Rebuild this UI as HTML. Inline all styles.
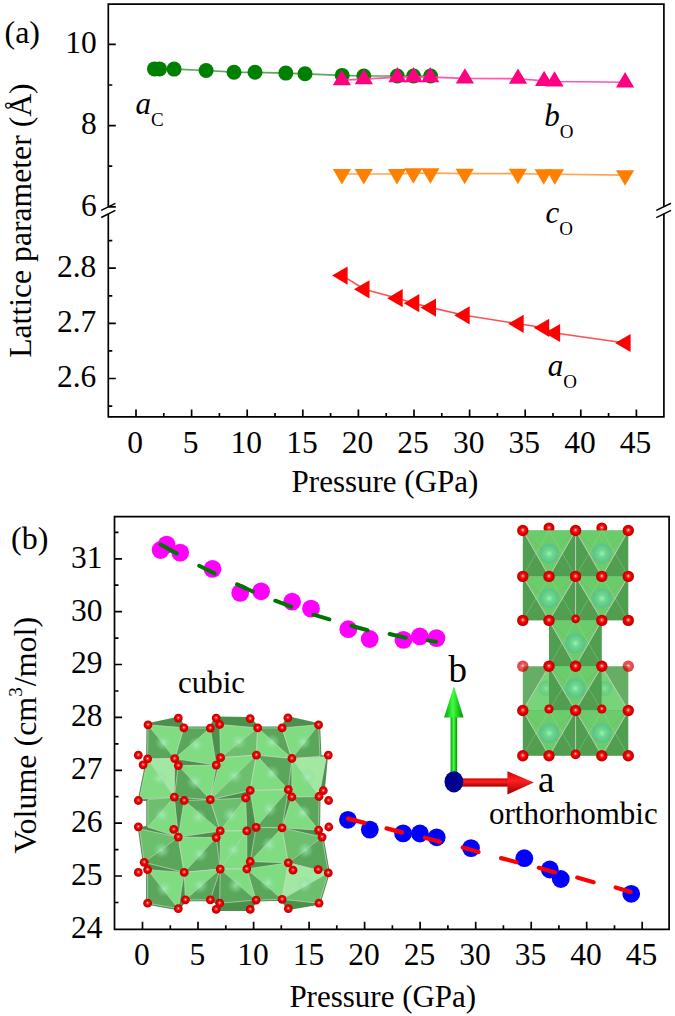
<!DOCTYPE html>
<html><head><meta charset="utf-8"><style>
html,body{margin:0;padding:0;background:#fff;}
svg{display:block;}
</style></head><body>
<svg width="675" height="1016" viewBox="0 0 675 1016">
<rect width="675" height="1016" fill="#fff"/>
<path d="M108.3,207 V4.1 H663.9 V206.6 M108.3,214 V416.9 H663.9 V213.8" fill="none" stroke="#000" stroke-width="1.7" stroke-linejoin="miter"/>
<path d="M101.2,210.4 L115.4,203.3 M101.2,217.5 L115.4,210.4 M656.3,210.4 L671,203.3 M656.3,217.6 L671,210.4" stroke="#000" stroke-width="1.5" fill="none"/>
<path d="M136.0,416.9 v-7.5 M191.6,416.9 v-7.5 M247.2,416.9 v-7.5 M302.8,416.9 v-7.5 M358.4,416.9 v-7.5 M414.0,416.9 v-7.5 M469.6,416.9 v-7.5 M525.2,416.9 v-7.5 M580.8,416.9 v-7.5 M636.4,416.9 v-7.5 M163.8,416.9 v-4 M219.4,416.9 v-4 M275.0,416.9 v-4 M330.6,416.9 v-4 M386.2,416.9 v-4 M441.8,416.9 v-4 M497.4,416.9 v-4 M553.0,416.9 v-4 M608.6,416.9 v-4 M108.3,44.4 h7.5 M108.3,85.0 h4 M108.3,125.6 h7.5 M108.3,166.2 h4 M108.3,206.8 h7.5 M108.3,240.6 h4 M108.3,268.2 h7.5 M108.3,295.8 h4 M108.3,323.3 h7.5 M108.3,350.9 h4 M108.3,378.5 h7.5 M108.3,406.1 h4" stroke="#000" stroke-width="1.7" fill="none"/>
<text x="135.1" y="452.8" text-anchor="middle" font-family="Liberation Serif" font-size="31.5">0</text>
<text x="190.7" y="452.8" text-anchor="middle" font-family="Liberation Serif" font-size="31.5">5</text>
<text x="246.3" y="452.8" text-anchor="middle" font-family="Liberation Serif" font-size="31.5">10</text>
<text x="301.9" y="452.8" text-anchor="middle" font-family="Liberation Serif" font-size="31.5">15</text>
<text x="357.5" y="452.8" text-anchor="middle" font-family="Liberation Serif" font-size="31.5">20</text>
<text x="413.1" y="452.8" text-anchor="middle" font-family="Liberation Serif" font-size="31.5">25</text>
<text x="468.7" y="452.8" text-anchor="middle" font-family="Liberation Serif" font-size="31.5">30</text>
<text x="524.3" y="452.8" text-anchor="middle" font-family="Liberation Serif" font-size="31.5">35</text>
<text x="579.9" y="452.8" text-anchor="middle" font-family="Liberation Serif" font-size="31.5">40</text>
<text x="635.5" y="452.8" text-anchor="middle" font-family="Liberation Serif" font-size="31.5">45</text>
<text x="96.8" y="53.2" text-anchor="end" font-family="Liberation Serif" font-size="31.5">10</text>
<text x="96.8" y="134.4" text-anchor="end" font-family="Liberation Serif" font-size="31.5">8</text>
<text x="96.8" y="215.6" text-anchor="end" font-family="Liberation Serif" font-size="31.5">6</text>
<text x="96.3" y="277.0" text-anchor="end" font-family="Liberation Serif" font-size="31.5">2.8</text>
<text x="96.3" y="332.1" text-anchor="end" font-family="Liberation Serif" font-size="31.5">2.7</text>
<text x="96.3" y="387.3" text-anchor="end" font-family="Liberation Serif" font-size="31.5">2.6</text>
<text x="385" y="492" text-anchor="middle" font-family="Liberation Serif" font-size="31">Pressure (GPa)</text>
<text transform="translate(30.7,220.6) rotate(-90)" text-anchor="middle" font-family="Liberation Serif" font-size="31.7">Lattice parameter (Å)</text>
<text x="4.5" y="42.6" font-family="Liberation Serif" font-size="32">(a)</text>
<text x="135.5" y="113.7" font-family="Liberation Serif" font-size="31"><tspan font-style="italic">a</tspan><tspan font-size="19" dy="12">C</tspan></text>
<text x="544.3" y="125.5" font-family="Liberation Serif" font-size="31"><tspan font-style="italic">b</tspan><tspan font-size="19" dy="12">O</tspan></text>
<text x="545.6" y="222.6" font-family="Liberation Serif" font-size="31"><tspan font-style="italic">c</tspan><tspan font-size="19" dy="12">O</tspan></text>
<text x="547.7" y="376.4" font-family="Liberation Serif" font-size="31"><tspan font-style="italic">a</tspan><tspan font-size="19" dy="12">O</tspan></text>
<polyline points="154.5,68.9 159.5,68.9 174.1,69.1 206.1,70.5 234,72.2 255,72.3 285.8,73.1 305,73.8 342.2,75.4 363.8,76 397.3,76 413.6,76 430.6,76" fill="none" stroke="#5aaa5a" stroke-width="1.7"/>
<circle cx="154.5" cy="68.9" r="7.5" fill="#008000"/>
<circle cx="159.5" cy="68.9" r="7.5" fill="#008000"/>
<circle cx="174.1" cy="69.1" r="7.5" fill="#008000"/>
<circle cx="206.1" cy="70.5" r="7.5" fill="#008000"/>
<circle cx="234" cy="72.2" r="7.5" fill="#008000"/>
<circle cx="255" cy="72.3" r="7.5" fill="#008000"/>
<circle cx="285.8" cy="73.1" r="7.5" fill="#008000"/>
<circle cx="305" cy="73.8" r="7.5" fill="#008000"/>
<circle cx="342.2" cy="75.4" r="7.5" fill="#008000"/>
<circle cx="363.8" cy="76" r="7.5" fill="#008000"/>
<circle cx="397.3" cy="76" r="7.5" fill="#008000"/>
<circle cx="413.6" cy="76" r="7.5" fill="#008000"/>
<circle cx="430.6" cy="76" r="7.5" fill="#008000"/>
<polyline points="341.9,80.1 363.9,79.1 397.4,77.1 413.6,77.1 430.3,77.1 464.9,78.4 518,78.7 544.1,80.9 554.5,81.5 625.1,82.3" fill="none" stroke="#ff55aa" stroke-width="1.6"/>
<path d="M341.9,69.9 L351.0,85.2 L332.8,85.2Z" fill="#ff0080"/>
<path d="M363.9,68.9 L373.0,84.2 L354.8,84.2Z" fill="#ff0080"/>
<path d="M397.4,66.9 L406.5,82.2 L388.3,82.2Z" fill="#ff0080"/>
<path d="M413.6,66.9 L422.7,82.2 L404.5,82.2Z" fill="#ff0080"/>
<path d="M430.3,66.9 L439.4,82.2 L421.2,82.2Z" fill="#ff0080"/>
<path d="M464.9,68.2 L474.0,83.5 L455.8,83.5Z" fill="#ff0080"/>
<path d="M518,68.5 L527.1,83.8 L508.9,83.8Z" fill="#ff0080"/>
<path d="M544.1,70.7 L553.2,86.0 L535.0,86.0Z" fill="#ff0080"/>
<path d="M554.5,71.3 L563.6,86.6 L545.4,86.6Z" fill="#ff0080"/>
<path d="M625.1,72.1 L634.2,87.4 L616.0,87.4Z" fill="#ff0080"/>
<polyline points="341.9,174 363.8,174 397,174 413.4,173.1 430.4,173.1 464.7,173.6 517.9,173.6 543.7,174.2 554.9,174.2 625.1,175.1" fill="none" stroke="#ffa550" stroke-width="1.6"/>
<path d="M341.9,184.6 L351.0,169.1 L332.8,169.1Z" fill="#ff8000"/>
<path d="M363.8,184.6 L372.9,169.1 L354.7,169.1Z" fill="#ff8000"/>
<path d="M397,184.6 L406.1,169.1 L387.9,169.1Z" fill="#ff8000"/>
<path d="M413.4,183.7 L422.5,168.2 L404.3,168.2Z" fill="#ff8000"/>
<path d="M430.4,183.7 L439.5,168.2 L421.3,168.2Z" fill="#ff8000"/>
<path d="M464.7,184.2 L473.8,168.7 L455.6,168.7Z" fill="#ff8000"/>
<path d="M517.9,184.2 L527.0,168.7 L508.8,168.7Z" fill="#ff8000"/>
<path d="M543.7,184.8 L552.8,169.3 L534.6,169.3Z" fill="#ff8000"/>
<path d="M554.9,184.8 L564.0,169.3 L545.8,169.3Z" fill="#ff8000"/>
<path d="M625.1,185.7 L634.2,170.2 L616.0,170.2Z" fill="#ff8000"/>
<polyline points="342.4,275.6 364.3,289.3 397.5,298.2 414.1,303.2 430.8,307.6 464.5,315.3 518.5,323.8 544,327.8 554.9,333 625.4,343" fill="none" stroke="#ff5050" stroke-width="1.6"/>
<path d="M332.1,275.6 L347.6,266.5 L347.6,284.7Z" fill="#ff0000"/>
<path d="M354.0,289.3 L369.5,280.2 L369.5,298.4Z" fill="#ff0000"/>
<path d="M387.2,298.2 L402.7,289.1 L402.7,307.3Z" fill="#ff0000"/>
<path d="M403.8,303.2 L419.3,294.1 L419.3,312.3Z" fill="#ff0000"/>
<path d="M420.5,307.6 L436.0,298.5 L436.0,316.7Z" fill="#ff0000"/>
<path d="M454.2,315.3 L469.7,306.2 L469.7,324.4Z" fill="#ff0000"/>
<path d="M508.2,323.8 L523.7,314.7 L523.7,332.9Z" fill="#ff0000"/>
<path d="M533.7,327.8 L549.2,318.7 L549.2,336.9Z" fill="#ff0000"/>
<path d="M544.6,333 L560.1,323.9 L560.1,342.1Z" fill="#ff0000"/>
<path d="M615.1,343 L630.6,333.9 L630.6,352.1Z" fill="#ff0000"/>
<path d="M114.5,516.6 H669.1 V929.3 H114.5 Z" fill="none" stroke="#000" stroke-width="1.7"/>
<path d="M142.5,929.3 v-7.5 M198.0,929.3 v-7.5 M253.6,929.3 v-7.5 M309.1,929.3 v-7.5 M364.6,929.3 v-7.5 M420.1,929.3 v-7.5 M475.7,929.3 v-7.5 M531.2,929.3 v-7.5 M586.7,929.3 v-7.5 M642.2,929.3 v-7.5 M170.3,929.3 v-4 M225.8,929.3 v-4 M281.3,929.3 v-4 M336.8,929.3 v-4 M392.4,929.3 v-4 M447.9,929.3 v-4 M503.4,929.3 v-4 M558.9,929.3 v-4 M614.5,929.3 v-4 M114.5,876.0 h7.5 M114.5,823.1 h7.5 M114.5,770.3 h7.5 M114.5,717.4 h7.5 M114.5,664.5 h7.5 M114.5,611.7 h7.5 M114.5,558.8 h7.5 M114.5,902.5 h4 M114.5,849.6 h4 M114.5,796.7 h4 M114.5,743.8 h4 M114.5,691.0 h4 M114.5,638.1 h4 M114.5,585.2 h4 M114.5,532.4 h4" stroke="#000" stroke-width="1.7" fill="none"/>
<text x="141.9" y="965.2" text-anchor="middle" font-family="Liberation Serif" font-size="31.5">0</text>
<text x="197.4" y="965.2" text-anchor="middle" font-family="Liberation Serif" font-size="31.5">5</text>
<text x="253.0" y="965.2" text-anchor="middle" font-family="Liberation Serif" font-size="31.5">10</text>
<text x="308.5" y="965.2" text-anchor="middle" font-family="Liberation Serif" font-size="31.5">15</text>
<text x="364.0" y="965.2" text-anchor="middle" font-family="Liberation Serif" font-size="31.5">20</text>
<text x="419.5" y="965.2" text-anchor="middle" font-family="Liberation Serif" font-size="31.5">25</text>
<text x="475.1" y="965.2" text-anchor="middle" font-family="Liberation Serif" font-size="31.5">30</text>
<text x="530.6" y="965.2" text-anchor="middle" font-family="Liberation Serif" font-size="31.5">35</text>
<text x="586.1" y="965.2" text-anchor="middle" font-family="Liberation Serif" font-size="31.5">40</text>
<text x="641.6" y="965.2" text-anchor="middle" font-family="Liberation Serif" font-size="31.5">45</text>
<text x="102.4" y="937.7" text-anchor="end" font-family="Liberation Serif" font-size="31.5">24</text>
<text x="102.4" y="884.8" text-anchor="end" font-family="Liberation Serif" font-size="31.5">25</text>
<text x="102.4" y="831.9" text-anchor="end" font-family="Liberation Serif" font-size="31.5">26</text>
<text x="102.4" y="779.1" text-anchor="end" font-family="Liberation Serif" font-size="31.5">27</text>
<text x="102.4" y="726.2" text-anchor="end" font-family="Liberation Serif" font-size="31.5">28</text>
<text x="102.4" y="673.3" text-anchor="end" font-family="Liberation Serif" font-size="31.5">29</text>
<text x="102.4" y="620.5" text-anchor="end" font-family="Liberation Serif" font-size="31.5">30</text>
<text x="102.4" y="567.6" text-anchor="end" font-family="Liberation Serif" font-size="31.5">31</text>
<text x="382.8" y="1006.5" text-anchor="middle" font-family="Liberation Serif" font-size="31">Pressure (GPa)</text>
<text transform="translate(36.3,735.2) rotate(-90)" text-anchor="middle" font-family="Liberation Serif" font-size="32">Volume (cm<tspan font-size="19" dy="-14">3</tspan><tspan dy="14" dx="1">/mol)</tspan></text>
<text x="11" y="548.6" font-family="Liberation Serif" font-size="32">(b)</text>
<circle cx="160.6" cy="550" r="8.9" fill="#ff00ff"/>
<circle cx="166.6" cy="544.6" r="8.9" fill="#ff00ff"/>
<circle cx="180.2" cy="552.6" r="8.9" fill="#ff00ff"/>
<circle cx="212.5" cy="568.9" r="8.9" fill="#ff00ff"/>
<circle cx="240.2" cy="592.9" r="8.9" fill="#ff00ff"/>
<circle cx="261.1" cy="591.3" r="8.9" fill="#ff00ff"/>
<circle cx="292.1" cy="601.7" r="8.9" fill="#ff00ff"/>
<circle cx="311" cy="608.6" r="8.9" fill="#ff00ff"/>
<circle cx="348.3" cy="629.2" r="8.9" fill="#ff00ff"/>
<circle cx="369.7" cy="639" r="8.9" fill="#ff00ff"/>
<circle cx="403.4" cy="639.9" r="8.9" fill="#ff00ff"/>
<circle cx="419.8" cy="636.5" r="8.9" fill="#ff00ff"/>
<circle cx="436.5" cy="638.1" r="8.9" fill="#ff00ff"/>
<path d="M160.6,544.5 L176.8,553.4 M199.2,565.8 L214.6,573.5 M237.1,584.4 L252.8,591.5 M275.3,600.7 L291.1,606.7 M313.5,614.7 L329.4,619.4 M351.4,625.7 L367.5,630.2 M389.6,634.0 L405.7,637.8 M427.9,640.4 L435.9,641.8" stroke="#007400" stroke-width="4.0" stroke-linecap="round" fill="none"/>
<circle cx="347.9" cy="819.8" r="8.9" fill="#0000ff"/>
<circle cx="369.8" cy="829.6" r="8.9" fill="#0000ff"/>
<circle cx="403.1" cy="833.4" r="8.9" fill="#0000ff"/>
<circle cx="419.9" cy="833.5" r="8.9" fill="#0000ff"/>
<circle cx="436.7" cy="837.3" r="8.9" fill="#0000ff"/>
<circle cx="471" cy="848.1" r="8.9" fill="#0000ff"/>
<circle cx="524.3" cy="858.2" r="8.9" fill="#0000ff"/>
<circle cx="549.8" cy="869.5" r="8.9" fill="#0000ff"/>
<circle cx="560.8" cy="879" r="8.9" fill="#0000ff"/>
<circle cx="631.2" cy="893.8" r="8.9" fill="#0000ff"/>
<path d="M348.0,818.6 L364.3,822.9 M386.6,828.4 L401.9,832.4 M424.9,837.7 L439.9,841.8 M462.7,847.5 L478.5,851.9 M501.1,858.1 L516.7,862.2 M538.8,867.8 L555.0,872.4 M577.2,877.6 L593.6,882.2 M615.7,887.4 L630.6,891.9" stroke="#ff0000" stroke-width="4.2" stroke-linecap="round" fill="none"/>
<text x="178" y="692.7" font-family="Liberation Serif" font-size="31">cubic</text>
<text x="489" y="823.8" font-family="Liberation Serif" font-size="31">orthorhombic</text>
<text x="448.5" y="682.3" font-family="Liberation Serif" font-size="37">b</text>
<text x="538" y="792" font-family="Liberation Serif" font-size="37">a</text>
<defs>
<radialGradient id="rs" cx="0.5" cy="0.5" r="0.55" fx="0.5" fy="0.45">
<stop offset="0" stop-color="#ffffff"/><stop offset="0.18" stop-color="#ff5050"/><stop offset="0.45" stop-color="#f00000"/><stop offset="1" stop-color="#b00000"/></radialGradient>
<radialGradient id="cs" cx="0.5" cy="0.5" r="0.5">
<stop offset="0" stop-color="#98f4a8"/><stop offset="0.35" stop-color="#6cd890"/><stop offset="0.85" stop-color="#5cc488"/><stop offset="1" stop-color="#5cc488" stop-opacity="0.3"/></radialGradient>
<radialGradient id="cg" cx="0.5" cy="0.5" r="0.5">
<stop offset="0" stop-color="#b0f0bc" stop-opacity="0.75"/><stop offset="0.6" stop-color="#8ee0a4" stop-opacity="0.35"/><stop offset="1" stop-color="#80d898" stop-opacity="0"/></radialGradient>
<linearGradient id="ga" x1="0" y1="0" x2="1" y2="0">
<stop offset="0" stop-color="#00a000"/><stop offset="0.45" stop-color="#40ff40"/><stop offset="1" stop-color="#009000"/></linearGradient>
<linearGradient id="ra" x1="0" y1="0" x2="0" y2="1">
<stop offset="0" stop-color="#d00000"/><stop offset="0.4" stop-color="#ff2020"/><stop offset="1" stop-color="#a00000"/></linearGradient>
</defs>
<path d="M148.0,724.8 L178.3,718.1 L183.9,727.8 L210.3,728.1 L216.2,718.1 L250.2,718.6 L257.7,727.9 L282.1,727.9 L287.9,717.8 L318.6,724.8 L320.0,756.5 L326.4,756.7 L323.3,790.7 L319.0,796.5 L318.6,830.1 L322.1,837.1 L328.3,872.9 L319.0,903.2 L288.3,908.6 L282.1,899.3 L256.1,900.1 L250.2,909.4 L216.2,909.4 L219.7,903.2 L210.3,899.8 L185.4,899.8 L178.3,908.7 L147.6,903.2 L147.6,869.7 L144.2,862.3 L139.5,829.0 L147.8,827.0 L147.8,799.7 L139.5,799.0 L147.6,758.9 Z" fill="#4b904b" stroke="#4b904b" stroke-width="3" stroke-linejoin="round"/>
<path d="M148.0,724.8 L183.9,727.8 L174.7,758.6 Z" fill="#80dc80"/>
<path d="M148.0,724.8 L174.7,758.6 L147.6,758.9 Z" fill="#5aa65a"/>
<path d="M148.0,724.8 L183.9,727.8 L174.7,758.6 L147.6,758.9 Z M148.0,724.8 L174.7,758.6" fill="none" stroke="#d0dcd0" stroke-width="0.8" opacity="0.8"/>
<circle cx="163.5" cy="742.5" r="8.5" fill="url(#cg)"/>
<path d="M183.9,727.8 L210.3,728.1 L174.7,758.6 Z" fill="#5aa65a"/>
<path d="M210.3,728.1 L216.2,765.1 L174.7,758.6 Z" fill="#80dc80"/>
<path d="M183.9,727.8 L210.3,728.1 L216.2,765.1 L174.7,758.6 Z M210.3,728.1 L174.7,758.6" fill="none" stroke="#d0dcd0" stroke-width="0.8" opacity="0.8"/>
<circle cx="196.3" cy="744.9" r="8.5" fill="url(#cg)"/>
<path d="M219.7,724.5 L257.7,727.9 L220.6,757.7 Z" fill="#80dc80"/>
<path d="M257.7,727.9 L256.4,755.1 L220.6,757.7 Z" fill="#6cbf6c"/>
<path d="M219.7,724.5 L257.7,727.9 L256.4,755.1 L220.6,757.7 Z M257.7,727.9 L220.6,757.7" fill="none" stroke="#d0dcd0" stroke-width="0.8" opacity="0.8"/>
<circle cx="238.6" cy="741.3" r="8.5" fill="url(#cg)"/>
<path d="M257.7,727.9 L282.1,727.9 L291.9,758.5 Z" fill="#5aa65a"/>
<path d="M257.7,727.9 L291.9,758.5 L256.4,755.1 Z" fill="#80dc80"/>
<path d="M257.7,727.9 L282.1,727.9 L291.9,758.5 L256.4,755.1 Z M257.7,727.9 L291.9,758.5" fill="none" stroke="#d0dcd0" stroke-width="0.8" opacity="0.8"/>
<circle cx="272.0" cy="742.4" r="8.5" fill="url(#cg)"/>
<path d="M282.1,727.9 L318.6,724.8 L291.9,758.5 Z" fill="#80dc80"/>
<path d="M318.6,724.8 L320.0,756.5 L291.9,758.5 Z" fill="#5aa65a"/>
<path d="M282.1,727.9 L318.6,724.8 L320.0,756.5 L291.9,758.5 Z M318.6,724.8 L291.9,758.5" fill="none" stroke="#d0dcd0" stroke-width="0.8" opacity="0.8"/>
<circle cx="303.1" cy="741.9" r="8.5" fill="url(#cg)"/>
<path d="M147.6,758.9 L174.7,758.6 L174.3,797.1 Z" fill="#a2e8a2"/>
<path d="M147.6,758.9 L174.3,797.1 L139.5,799.0 Z" fill="#80dc80"/>
<path d="M147.6,758.9 L174.7,758.6 L174.3,797.1 L139.5,799.0 Z M147.6,758.9 L174.3,797.1" fill="none" stroke="#d0dcd0" stroke-width="0.8" opacity="0.8"/>
<circle cx="159.0" cy="778.4" r="8.5" fill="url(#cg)"/>
<path d="M178.3,765.6 L216.2,765.1 L210.3,799.7 Z" fill="#80dc80"/>
<path d="M178.3,765.6 L210.3,799.7 L174.3,797.1 Z" fill="#5aa65a"/>
<path d="M178.3,765.6 L216.2,765.1 L210.3,799.7 L174.3,797.1 Z M178.3,765.6 L210.3,799.7" fill="none" stroke="#d0dcd0" stroke-width="0.8" opacity="0.8"/>
<circle cx="194.8" cy="781.9" r="8.5" fill="url(#cg)"/>
<path d="M220.6,757.7 L256.4,755.1 L210.3,799.7 Z" fill="#80dc80"/>
<path d="M256.4,755.1 L250.2,790.5 L210.3,799.7 Z" fill="#6cbf6c"/>
<path d="M220.6,757.7 L256.4,755.1 L250.2,790.5 L210.3,799.7 Z M256.4,755.1 L210.3,799.7" fill="none" stroke="#d0dcd0" stroke-width="0.8" opacity="0.8"/>
<circle cx="234.4" cy="775.8" r="8.5" fill="url(#cg)"/>
<path d="M256.4,755.1 L291.9,758.5 L288.3,789.7 Z" fill="#5aa65a"/>
<path d="M256.4,755.1 L288.3,789.7 L250.2,790.5 Z" fill="#80dc80"/>
<path d="M256.4,755.1 L291.9,758.5 L288.3,789.7 L250.2,790.5 Z M256.4,755.1 L288.3,789.7" fill="none" stroke="#d0dcd0" stroke-width="0.8" opacity="0.8"/>
<circle cx="271.7" cy="773.5" r="8.5" fill="url(#cg)"/>
<path d="M291.9,758.5 L326.4,756.7 L319.0,796.5 Z" fill="#a2e8a2"/>
<path d="M291.9,758.5 L319.0,796.5 L291.9,797.0 Z" fill="#80dc80"/>
<path d="M291.9,758.5 L326.4,756.7 L319.0,796.5 L291.9,797.0 Z M291.9,758.5 L319.0,796.5" fill="none" stroke="#d0dcd0" stroke-width="0.8" opacity="0.8"/>
<circle cx="307.3" cy="777.2" r="8.5" fill="url(#cg)"/>
<path d="M147.8,799.7 L174.3,797.1 L147.8,827.0 Z" fill="#6cbf6c"/>
<path d="M174.3,797.1 L178.3,837.1 L147.8,827.0 Z" fill="#80dc80"/>
<path d="M147.8,799.7 L174.3,797.1 L178.3,837.1 L147.8,827.0 Z M174.3,797.1 L147.8,827.0" fill="none" stroke="#d0dcd0" stroke-width="0.8" opacity="0.8"/>
<circle cx="162.1" cy="815.2" r="8.5" fill="url(#cg)"/>
<path d="M184.2,800.5 L210.3,799.7 L220.2,830.9 Z" fill="#5aa65a"/>
<path d="M184.2,800.5 L220.2,830.9 L178.3,837.1 Z" fill="#80dc80"/>
<path d="M184.2,800.5 L210.3,799.7 L220.2,830.9 L178.3,837.1 Z M184.2,800.5 L220.2,830.9" fill="none" stroke="#d0dcd0" stroke-width="0.8" opacity="0.8"/>
<circle cx="198.2" cy="817.0" r="8.5" fill="url(#cg)"/>
<path d="M210.3,799.7 L245.6,798.0 L220.2,830.9 Z" fill="#6cbf6c"/>
<path d="M245.6,798.0 L246.8,830.9 L220.2,830.9 Z" fill="#80dc80"/>
<path d="M210.3,799.7 L245.6,798.0 L246.8,830.9 L220.2,830.9 Z M245.6,798.0 L220.2,830.9" fill="none" stroke="#d0dcd0" stroke-width="0.8" opacity="0.8"/>
<circle cx="230.7" cy="814.9" r="8.5" fill="url(#cg)"/>
<path d="M250.2,790.5 L288.3,789.7 L256.1,827.3 Z" fill="#80dc80"/>
<path d="M288.3,789.7 L282.1,827.8 L256.1,827.3 Z" fill="#5aa65a"/>
<path d="M250.2,790.5 L288.3,789.7 L282.1,827.8 L256.1,827.3 Z M288.3,789.7 L256.1,827.3" fill="none" stroke="#d0dcd0" stroke-width="0.8" opacity="0.8"/>
<circle cx="269.2" cy="808.8" r="8.5" fill="url(#cg)"/>
<path d="M291.9,797.0 L319.0,796.5 L318.6,830.1 Z" fill="#5aa65a"/>
<path d="M291.9,797.0 L318.6,830.1 L282.1,827.8 Z" fill="#80dc80"/>
<path d="M291.9,797.0 L319.0,796.5 L318.6,830.1 L282.1,827.8 Z M291.9,797.0 L318.6,830.1" fill="none" stroke="#d0dcd0" stroke-width="0.8" opacity="0.8"/>
<circle cx="302.9" cy="812.8" r="8.5" fill="url(#cg)"/>
<path d="M139.5,829.0 L178.3,837.1 L144.2,862.3 Z" fill="#6cbf6c"/>
<path d="M178.3,837.1 L184.2,872.4 L144.2,862.3 Z" fill="#5aa65a"/>
<path d="M139.5,829.0 L178.3,837.1 L184.2,872.4 L144.2,862.3 Z M178.3,837.1 L144.2,862.3" fill="none" stroke="#d0dcd0" stroke-width="0.8" opacity="0.8"/>
<circle cx="161.6" cy="850.2" r="8.5" fill="url(#cg)"/>
<path d="M178.3,837.1 L216.2,837.6 L184.2,872.4 Z" fill="#80dc80"/>
<path d="M216.2,837.6 L220.2,869.1 L184.2,872.4 Z" fill="#5aa65a"/>
<path d="M178.3,837.1 L216.2,837.6 L220.2,869.1 L184.2,872.4 Z M216.2,837.6 L184.2,872.4" fill="none" stroke="#d0dcd0" stroke-width="0.8" opacity="0.8"/>
<circle cx="199.7" cy="854.1" r="8.5" fill="url(#cg)"/>
<path d="M220.2,830.9 L246.8,830.9 L220.2,869.1 Z" fill="#80dc80"/>
<path d="M246.8,830.9 L246.8,869.0 L220.2,869.1 Z" fill="#80dc80"/>
<path d="M220.2,830.9 L246.8,830.9 L246.8,869.0 L220.2,869.1 Z M246.8,830.9 L220.2,869.1" fill="none" stroke="#d0dcd0" stroke-width="0.8" opacity="0.8"/>
<circle cx="233.5" cy="850.0" r="8.5" fill="url(#cg)"/>
<path d="M256.1,827.3 L282.1,827.8 L250.2,861.5 Z" fill="#5aa65a"/>
<path d="M282.1,827.8 L288.3,862.8 L250.2,861.5 Z" fill="#80dc80"/>
<path d="M256.1,827.3 L282.1,827.8 L288.3,862.8 L250.2,861.5 Z M282.1,827.8 L250.2,861.5" fill="none" stroke="#d0dcd0" stroke-width="0.8" opacity="0.8"/>
<circle cx="269.2" cy="844.8" r="8.5" fill="url(#cg)"/>
<path d="M282.1,827.8 L322.1,837.1 L288.3,862.8 Z" fill="#6cbf6c"/>
<path d="M322.1,837.1 L328.3,872.9 L288.3,862.8 Z" fill="#5aa65a"/>
<path d="M282.1,827.8 L322.1,837.1 L328.3,872.9 L288.3,862.8 Z M322.1,837.1 L288.3,862.8" fill="none" stroke="#d0dcd0" stroke-width="0.8" opacity="0.8"/>
<circle cx="305.2" cy="850.2" r="8.5" fill="url(#cg)"/>
<path d="M147.6,869.7 L184.2,872.4 L178.3,908.7 Z" fill="#80dc80"/>
<path d="M147.6,869.7 L178.3,908.7 L147.6,903.2 Z" fill="#5aa65a"/>
<path d="M147.6,869.7 L184.2,872.4 L178.3,908.7 L147.6,903.2 Z M147.6,869.7 L178.3,908.7" fill="none" stroke="#d0dcd0" stroke-width="0.8" opacity="0.8"/>
<circle cx="164.4" cy="888.5" r="8.5" fill="url(#cg)"/>
<path d="M184.2,872.4 L220.2,869.1 L185.4,899.8 Z" fill="#80dc80"/>
<path d="M220.2,869.1 L210.3,899.8 L185.4,899.8 Z" fill="#5aa65a"/>
<path d="M184.2,872.4 L220.2,869.1 L210.3,899.8 L185.4,899.8 Z M220.2,869.1 L185.4,899.8" fill="none" stroke="#d0dcd0" stroke-width="0.8" opacity="0.8"/>
<circle cx="200.0" cy="885.3" r="8.5" fill="url(#cg)"/>
<path d="M220.2,869.1 L246.8,869.0 L256.1,900.1 Z" fill="#80dc80"/>
<path d="M220.2,869.1 L256.1,900.1 L219.7,903.2 Z" fill="#5aa65a"/>
<path d="M220.2,869.1 L246.8,869.0 L256.1,900.1 L219.7,903.2 Z M220.2,869.1 L256.1,900.1" fill="none" stroke="#d0dcd0" stroke-width="0.8" opacity="0.8"/>
<circle cx="235.7" cy="885.3" r="8.5" fill="url(#cg)"/>
<path d="M246.8,869.0 L288.3,862.8 L282.1,899.3 Z" fill="#80dc80"/>
<path d="M246.8,869.0 L282.1,899.3 L256.1,900.1 Z" fill="#5aa65a"/>
<path d="M246.8,869.0 L288.3,862.8 L282.1,899.3 L256.1,900.1 Z M246.8,869.0 L282.1,899.3" fill="none" stroke="#d0dcd0" stroke-width="0.8" opacity="0.8"/>
<circle cx="268.3" cy="882.8" r="8.5" fill="url(#cg)"/>
<path d="M288.3,862.8 L328.3,872.9 L282.1,899.3 Z" fill="#a2e8a2"/>
<path d="M328.3,872.9 L319.0,903.2 L282.1,899.3 Z" fill="#6cbf6c"/>
<path d="M288.3,862.8 L328.3,872.9 L319.0,903.2 L282.1,899.3 Z M328.3,872.9 L282.1,899.3" fill="none" stroke="#d0dcd0" stroke-width="0.8" opacity="0.8"/>
<circle cx="304.4" cy="884.5" r="8.5" fill="url(#cg)"/>
<circle cx="148.0" cy="724.8" r="4.4" fill="url(#rs)"/>
<circle cx="178.3" cy="718.1" r="4.4" fill="url(#rs)"/>
<circle cx="183.9" cy="727.8" r="4.4" fill="url(#rs)"/>
<circle cx="210.3" cy="728.1" r="4.4" fill="url(#rs)"/>
<circle cx="216.2" cy="718.1" r="4.4" fill="url(#rs)"/>
<circle cx="219.7" cy="724.5" r="4.4" fill="url(#rs)"/>
<circle cx="250.2" cy="718.6" r="4.4" fill="url(#rs)"/>
<circle cx="257.7" cy="727.9" r="4.4" fill="url(#rs)"/>
<circle cx="282.1" cy="727.9" r="4.4" fill="url(#rs)"/>
<circle cx="287.9" cy="717.8" r="4.4" fill="url(#rs)"/>
<circle cx="318.6" cy="724.8" r="4.4" fill="url(#rs)"/>
<circle cx="138.3" cy="755.2" r="4.4" fill="url(#rs)"/>
<circle cx="147.6" cy="758.9" r="4.4" fill="url(#rs)"/>
<circle cx="143.1" cy="764.8" r="4.4" fill="url(#rs)"/>
<circle cx="174.7" cy="758.6" r="4.4" fill="url(#rs)"/>
<circle cx="178.3" cy="765.6" r="4.4" fill="url(#rs)"/>
<circle cx="216.2" cy="765.1" r="4.4" fill="url(#rs)"/>
<circle cx="220.6" cy="757.7" r="4.4" fill="url(#rs)"/>
<circle cx="256.4" cy="755.1" r="4.4" fill="url(#rs)"/>
<circle cx="291.9" cy="758.5" r="4.4" fill="url(#rs)"/>
<circle cx="328.3" cy="755.1" r="4.4" fill="url(#rs)"/>
<circle cx="138.3" cy="800.5" r="4.4" fill="url(#rs)"/>
<circle cx="174.3" cy="797.1" r="4.4" fill="url(#rs)"/>
<circle cx="184.2" cy="800.5" r="4.4" fill="url(#rs)"/>
<circle cx="210.3" cy="799.7" r="4.4" fill="url(#rs)"/>
<circle cx="250.2" cy="790.5" r="4.4" fill="url(#rs)"/>
<circle cx="245.6" cy="798.0" r="4.4" fill="url(#rs)"/>
<circle cx="288.3" cy="789.7" r="4.4" fill="url(#rs)"/>
<circle cx="291.9" cy="797.0" r="4.4" fill="url(#rs)"/>
<circle cx="323.3" cy="790.7" r="4.4" fill="url(#rs)"/>
<circle cx="319.0" cy="796.5" r="4.4" fill="url(#rs)"/>
<circle cx="328.6" cy="800.5" r="4.4" fill="url(#rs)"/>
<circle cx="138.3" cy="826.8" r="4.4" fill="url(#rs)"/>
<circle cx="173.8" cy="829.4" r="4.4" fill="url(#rs)"/>
<circle cx="178.3" cy="837.1" r="4.4" fill="url(#rs)"/>
<circle cx="220.2" cy="830.9" r="4.4" fill="url(#rs)"/>
<circle cx="216.2" cy="837.6" r="4.4" fill="url(#rs)"/>
<circle cx="256.1" cy="827.3" r="4.4" fill="url(#rs)"/>
<circle cx="246.8" cy="830.9" r="4.4" fill="url(#rs)"/>
<circle cx="282.1" cy="827.8" r="4.4" fill="url(#rs)"/>
<circle cx="318.6" cy="830.1" r="4.4" fill="url(#rs)"/>
<circle cx="322.1" cy="837.1" r="4.4" fill="url(#rs)"/>
<circle cx="328.8" cy="827.0" r="4.4" fill="url(#rs)"/>
<circle cx="144.2" cy="862.3" r="4.4" fill="url(#rs)"/>
<circle cx="147.6" cy="869.7" r="4.4" fill="url(#rs)"/>
<circle cx="138.3" cy="872.4" r="4.4" fill="url(#rs)"/>
<circle cx="184.2" cy="872.4" r="4.4" fill="url(#rs)"/>
<circle cx="220.2" cy="869.1" r="4.4" fill="url(#rs)"/>
<circle cx="250.2" cy="861.5" r="4.4" fill="url(#rs)"/>
<circle cx="246.8" cy="869.0" r="4.4" fill="url(#rs)"/>
<circle cx="288.3" cy="862.8" r="4.4" fill="url(#rs)"/>
<circle cx="293.0" cy="870.2" r="4.4" fill="url(#rs)"/>
<circle cx="328.3" cy="872.9" r="4.4" fill="url(#rs)"/>
<circle cx="318.2" cy="869.6" r="4.4" fill="url(#rs)"/>
<circle cx="147.6" cy="903.2" r="4.4" fill="url(#rs)"/>
<circle cx="185.4" cy="899.8" r="4.4" fill="url(#rs)"/>
<circle cx="178.3" cy="908.7" r="4.4" fill="url(#rs)"/>
<circle cx="210.3" cy="899.8" r="4.4" fill="url(#rs)"/>
<circle cx="219.7" cy="903.2" r="4.4" fill="url(#rs)"/>
<circle cx="216.2" cy="909.4" r="4.4" fill="url(#rs)"/>
<circle cx="256.1" cy="900.1" r="4.4" fill="url(#rs)"/>
<circle cx="250.2" cy="909.4" r="4.4" fill="url(#rs)"/>
<circle cx="282.1" cy="899.3" r="4.4" fill="url(#rs)"/>
<circle cx="288.3" cy="908.6" r="4.4" fill="url(#rs)"/>
<circle cx="319.0" cy="903.2" r="4.4" fill="url(#rs)"/>
<circle cx="549.0" cy="528.0" r="5.5" fill="url(#rs)"/>
<circle cx="601.8" cy="528.0" r="5.5" fill="url(#rs)"/>
<rect x="522.8" y="666.3" width="26.2" height="44.2" fill="#66ad66"/>
<path d="M522.8,710.5 L549.0,666.3 L549.0,710.5Z" fill="#78d478"/>
<circle cx="546.0" cy="688.4" r="8" fill="url(#cs)" opacity="0.6"/>
<path d="M522.8,710.5 L549.0,666.3" stroke="#c8d0c8" stroke-width="0.9"/>
<rect x="601.8" y="666.3" width="26.5" height="44.2" fill="#66ad66"/>
<path d="M628.3,710.5 L601.8,666.3 L601.8,710.5Z" fill="#78d478"/>
<circle cx="604.8" cy="688.4" r="8" fill="url(#cs)" opacity="0.6"/>
<path d="M628.3,710.5 L601.8,666.3" stroke="#c8d0c8" stroke-width="0.9"/>
<rect x="522.8" y="530.5" width="52.8" height="45.9" fill="#509e50"/><path d="M522.8,530.5 L575.6,530.5 L549.2,576.4 Z" fill="#6acc6a"/><path d="M522.8,576.4 L549.2,530.5 L575.6,576.4" fill="none" stroke="#a8e0a8" stroke-width="0.6" opacity="0.55"/><circle cx="549.2" cy="553.5" r="10.5" fill="url(#cs)"/><path d="M522.8,530.5 L549.2,576.4 L575.6,530.5" fill="none" stroke="#c8d0c8" stroke-width="0.9"/><path d="M525.8,533.5 L543.2,551.2 M572.6,533.5 L555.2,551.2 M525.8,573.4 L543.2,559.0 M572.6,573.4 L555.2,559.0" fill="none" stroke="#b08a50" stroke-width="0.7" opacity="0.45"/>
<rect x="575.6" y="530.5" width="52.7" height="45.9" fill="#509e50"/><path d="M575.6,530.5 L628.3,530.5 L602.0,576.4 Z" fill="#6acc6a"/><path d="M575.6,576.4 L602.0,530.5 L628.3,576.4" fill="none" stroke="#a8e0a8" stroke-width="0.6" opacity="0.55"/><circle cx="602.0" cy="553.5" r="10.5" fill="url(#cs)"/><path d="M575.6,530.5 L602.0,576.4 L628.3,530.5" fill="none" stroke="#c8d0c8" stroke-width="0.9"/><path d="M578.6,533.5 L596.0,551.2 M625.3,533.5 L608.0,551.2 M578.6,573.4 L596.0,559.0 M625.3,573.4 L608.0,559.0" fill="none" stroke="#b08a50" stroke-width="0.7" opacity="0.45"/>
<rect x="522.8" y="576.4" width="52.8" height="44.0" fill="#509e50"/><path d="M522.8,576.4 L575.6,576.4 L549.2,620.4 Z" fill="#6acc6a"/><path d="M522.8,620.4 L549.2,576.4 L575.6,620.4" fill="none" stroke="#a8e0a8" stroke-width="0.6" opacity="0.55"/><circle cx="549.2" cy="598.4" r="10.5" fill="url(#cs)"/><path d="M522.8,576.4 L549.2,620.4 L575.6,576.4" fill="none" stroke="#c8d0c8" stroke-width="0.9"/><path d="M525.8,579.4 L543.2,596.2 M572.6,579.4 L555.2,596.2 M525.8,617.4 L543.2,603.7 M572.6,617.4 L555.2,603.7" fill="none" stroke="#b08a50" stroke-width="0.7" opacity="0.45"/>
<rect x="575.6" y="576.4" width="52.7" height="44.0" fill="#509e50"/><path d="M575.6,576.4 L628.3,576.4 L602.0,620.4 Z" fill="#6acc6a"/><path d="M575.6,620.4 L602.0,576.4 L628.3,620.4" fill="none" stroke="#a8e0a8" stroke-width="0.6" opacity="0.55"/><circle cx="602.0" cy="598.4" r="10.5" fill="url(#cs)"/><path d="M575.6,576.4 L602.0,620.4 L628.3,576.4" fill="none" stroke="#c8d0c8" stroke-width="0.9"/><path d="M578.6,579.4 L596.0,596.2 M625.3,579.4 L608.0,596.2 M578.6,617.4 L596.0,603.7 M625.3,617.4 L608.0,603.7" fill="none" stroke="#b08a50" stroke-width="0.7" opacity="0.45"/>
<rect x="549.0" y="620.4" width="52.8" height="45.9" fill="#509e50"/><path d="M549.0,620.4 L601.8,620.4 L575.4,666.3 Z" fill="#6acc6a"/><path d="M549.0,666.3 L575.4,620.4 L601.8,666.3" fill="none" stroke="#a8e0a8" stroke-width="0.6" opacity="0.55"/><circle cx="575.4" cy="643.3" r="10.5" fill="url(#cs)"/><path d="M549.0,620.4 L575.4,666.3 L601.8,620.4" fill="none" stroke="#c8d0c8" stroke-width="0.9"/><path d="M552.0,623.4 L569.4,641.1 M598.8,623.4 L581.4,641.1 M552.0,663.3 L569.4,648.9 M598.8,663.3 L581.4,648.9" fill="none" stroke="#b08a50" stroke-width="0.7" opacity="0.45"/>
<rect x="549.0" y="666.3" width="52.8" height="44.2" fill="#509e50"/><path d="M549.0,666.3 L601.8,666.3 L575.4,710.5 Z" fill="#6acc6a"/><path d="M549.0,710.5 L575.4,666.3 L601.8,710.5" fill="none" stroke="#a8e0a8" stroke-width="0.6" opacity="0.55"/><circle cx="575.4" cy="688.4" r="10.5" fill="url(#cs)"/><path d="M549.0,666.3 L575.4,710.5 L601.8,666.3" fill="none" stroke="#c8d0c8" stroke-width="0.9"/><path d="M552.0,669.3 L569.4,686.2 M598.8,669.3 L581.4,686.2 M552.0,707.5 L569.4,693.7 M598.8,707.5 L581.4,693.7" fill="none" stroke="#b08a50" stroke-width="0.7" opacity="0.45"/>
<rect x="522.8" y="710.5" width="52.8" height="45.3" fill="#509e50"/><path d="M522.8,710.5 L575.6,710.5 L549.2,755.8 Z" fill="#6acc6a"/><path d="M522.8,755.8 L549.2,710.5 L575.6,755.8" fill="none" stroke="#a8e0a8" stroke-width="0.6" opacity="0.55"/><circle cx="549.2" cy="733.1" r="10.5" fill="url(#cs)"/><path d="M522.8,710.5 L549.2,755.8 L575.6,710.5" fill="none" stroke="#c8d0c8" stroke-width="0.9"/><path d="M525.8,713.5 L543.2,730.9 M572.6,713.5 L555.2,730.9 M525.8,752.8 L543.2,738.6 M572.6,752.8 L555.2,738.6" fill="none" stroke="#b08a50" stroke-width="0.7" opacity="0.45"/>
<rect x="575.6" y="710.5" width="52.7" height="45.3" fill="#509e50"/><path d="M575.6,710.5 L628.3,710.5 L602.0,755.8 Z" fill="#6acc6a"/><path d="M575.6,755.8 L602.0,710.5 L628.3,755.8" fill="none" stroke="#a8e0a8" stroke-width="0.6" opacity="0.55"/><circle cx="602.0" cy="733.1" r="10.5" fill="url(#cs)"/><path d="M575.6,710.5 L602.0,755.8 L628.3,710.5" fill="none" stroke="#c8d0c8" stroke-width="0.9"/><path d="M578.6,713.5 L596.0,730.9 M625.3,713.5 L608.0,730.9 M578.6,752.8 L596.0,738.6 M625.3,752.8 L608.0,738.6" fill="none" stroke="#b08a50" stroke-width="0.7" opacity="0.45"/>
<path d="M575.6,530.5 V620.4 M575.6,710.5 V755.8" stroke="#c8d0c8" stroke-width="0.8"/>
<circle cx="522.8" cy="530.5" r="5.7" fill="url(#rs)"/>
<circle cx="575.6" cy="530.5" r="5.7" fill="url(#rs)"/>
<circle cx="628.3" cy="530.5" r="5.7" fill="url(#rs)"/>
<circle cx="522.8" cy="576.4" r="5.7" fill="url(#rs)"/>
<circle cx="549.0" cy="576.4" r="5.7" fill="url(#rs)"/>
<circle cx="575.6" cy="576.4" r="5.7" fill="url(#rs)"/>
<circle cx="601.8" cy="576.4" r="5.7" fill="url(#rs)"/>
<circle cx="628.3" cy="576.4" r="5.7" fill="url(#rs)"/>
<circle cx="522.8" cy="620.4" r="5.7" fill="url(#rs)"/>
<circle cx="549.0" cy="620.4" r="5.7" fill="url(#rs)"/>
<circle cx="575.6" cy="618.9" r="4.3" fill="url(#rs)"/>
<circle cx="601.8" cy="620.4" r="5.7" fill="url(#rs)"/>
<circle cx="628.3" cy="620.4" r="5.7" fill="url(#rs)"/>
<g opacity="0.7"><circle cx="522.8" cy="666.3" r="5.7" fill="url(#rs)"/></g>
<circle cx="549.0" cy="666.3" r="5.7" fill="url(#rs)"/>
<circle cx="575.6" cy="666.3" r="5.7" fill="url(#rs)"/>
<circle cx="601.8" cy="666.3" r="5.7" fill="url(#rs)"/>
<g opacity="0.7"><circle cx="628.3" cy="666.3" r="5.7" fill="url(#rs)"/></g>
<circle cx="522.8" cy="710.5" r="5.7" fill="url(#rs)"/>
<circle cx="549.0" cy="709.0" r="4.6" fill="url(#rs)"/>
<circle cx="575.6" cy="710.5" r="5.7" fill="url(#rs)"/>
<circle cx="601.8" cy="709.0" r="4.6" fill="url(#rs)"/>
<circle cx="628.3" cy="710.5" r="5.7" fill="url(#rs)"/>
<circle cx="522.8" cy="755.8" r="5.7" fill="url(#rs)"/>
<circle cx="549.0" cy="755.8" r="5.7" fill="url(#rs)"/>
<circle cx="575.6" cy="754.3" r="4.9" fill="url(#rs)"/>
<circle cx="601.8" cy="755.8" r="5.7" fill="url(#rs)"/>
<circle cx="628.3" cy="755.8" r="5.7" fill="url(#rs)"/>
<rect x="450.6" y="716" width="6.6" height="58" fill="url(#ga)"/>
<path d="M453.9,686.3 L463.6,717.4 L444.1,717.4 Z" fill="url(#ga)"/>
<rect x="455" y="778.4" width="55" height="8.2" fill="url(#ra)"/>
<path d="M533.9,782.5 L507.4,771.2 L507.4,794.4 Z" fill="url(#ra)"/>
<ellipse cx="453.9" cy="781.8" rx="9.4" ry="10.6" fill="#000090"/>
</svg>
</body></html>
